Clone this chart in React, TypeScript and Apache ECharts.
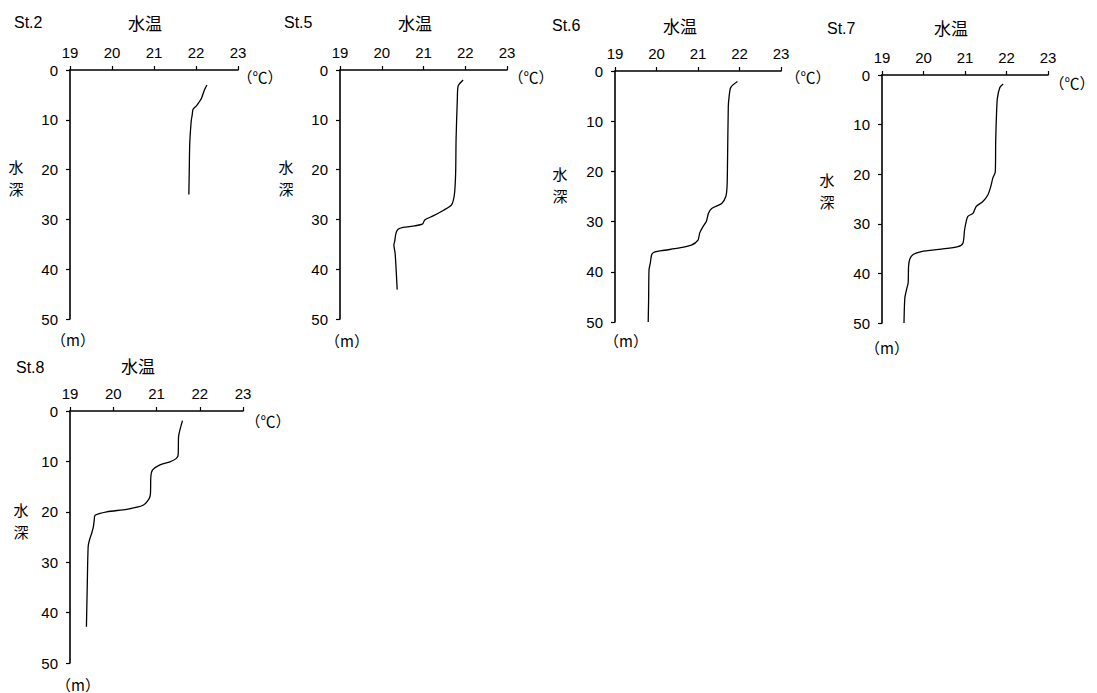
import React, { useEffect, useRef } from "react";
import * as echarts from "echarts";

const stations = ["St.2", "St.5", "St.6", "St.7", "St.8"];
const xTicks = [19, 20, 21, 22, 23];
const yTicks = [0, 10, 20, 30, 40, 50];

// [temperature °C, depth m]
const st2Temp = [22.26, 22.2, 22.13, 22.07, 22.01, 21.93, 21.91, 21.89, 21.87, 21.85, 21.84, 21.83];
const st2Depth = [3, 4, 5.7, 6.5, 7.2, 7.9, 9, 10, 12, 15, 20, 25];

const st5Temp = [21.95, 21.83, 21.81, 21.78, 21.77, 21.74, 21.67, 21.47, 21.23, 21.03, 20.98, 20.79, 20.51, 20.39, 20.34, 20.31, 20.29, 20.32, 20.34, 20.37];
const st5Depth = [2.0, 3.2, 6, 14, 20.7, 25, 27.1, 28.2, 29.3, 30.1, 30.9, 31.3, 31.6, 32, 32.8, 34.4, 35.1, 36.8, 39.4, 44.1];

const st6Temp = [21.95, 21.79, 21.75, 21.73, 21.71, 21.7, 21.67, 21.57, 21.33, 21.25, 21.2, 21.12, 21.04, 21.0, 20.84, 20.52, 20.12, 19.92, 19.88, 19.85, 19.82, 19.81, 19.8];
const st6Depth = [2.1, 3.25, 5.1, 7.1, 19.1, 23, 25, 26.4, 27.4, 28.4, 30, 31, 32.3, 33.7, 34.7, 35.3, 35.8, 36.2, 36.7, 38.3, 39.6, 45.6, 50];

const st7Temp = [21.92, 21.84, 21.78, 21.76, 21.74, 21.73, 21.67, 21.62, 21.55, 21.43, 21.27, 21.23, 21.19, 21.07, 21.03, 20.99, 20.95, 20.83, 20.43, 19.95, 19.75, 19.67, 19.64, 19.63, 19.59, 19.55, 19.53];
const st7Depth = [1.8, 2.5, 4.7, 7.7, 13.1, 19.5, 20.8, 22.5, 24.2, 25.5, 26.5, 27.2, 27.9, 28.5, 29.5, 31.2, 33.9, 34.6, 35.1, 35.6, 36.2, 37.1, 38.6, 41.9, 43.3, 45, 50];

const st8Temp = [21.6, 21.54, 21.51, 21.5, 21.46, 21.31, 21.08, 20.91, 20.87, 20.86, 20.83, 20.69, 20.31, 19.85, 19.58, 19.56, 19.54, 19.5, 19.45, 19.42, 19.4, 19.38];
const st8Depth = [1.9, 3.8, 5.1, 8.7, 9.4, 10.1, 10.7, 11.7, 13, 16.4, 17.4, 18.7, 19.5, 20, 20.7, 21.7, 23, 24.3, 25.6, 26.9, 34.2, 42.8];

const temps = [st2Temp, st5Temp, st6Temp, st7Temp, st8Temp];
const depths = [st2Depth, st5Depth, st6Depth, st7Depth, st8Depth];

// grid geometry (pixels)
const grids = [
  { left: 70, top: 70, width: 168, height: 249 },
  { left: 340, top: 70, width: 167, height: 249 },
  { left: 615, top: 71, width: 166, height: 251 },
  { left: 882, top: 75, width: 166, height: 248 },
  { left: 70, top: 411, width: 173, height: 252 },
];

// label positions
const titlePos = [
  { st: [14, 22], wt: [145, 22], wd: [16, 176], c: [260, 76], m: [73, 339] },
  { st: [284, 22], wt: [415, 22], wd: [286, 176], c: [531, 76], m: [347, 340] },
  { st: [552, 25], wt: [680, 25], wd: [560, 183], c: [808, 76], m: [626, 340] },
  { st: [827, 28], wt: [951, 27], wd: [827, 189], c: [1072, 82], m: [887, 347] },
  { st: [16, 367], wt: [138, 365], wd: [21, 519], c: [268, 420], m: [78, 684] },
];

const FONT = "Liberation Sans, Noto Sans CJK JP, sans-serif";
const CJK = "Noto Sans CJK JP, sans-serif";

export default function App() {
  const ref = useRef<HTMLDivElement>(null);
  useEffect(() => {
    if (!ref.current) return;
    const chart = echarts.init(ref.current, undefined, { renderer: "svg" });
    const axisLine = { show: true, lineStyle: { color: "#000", width: 1.6 } };
    const option: any = {
      animation: false,
      backgroundColor: "#fff",
      grid: grids.map((g) => ({ ...g, containLabel: false })),
      xAxis: grids.map((_, i) => ({
        type: "value",
        gridIndex: i,
        position: "top",
        min: xTicks[0],
        max: xTicks[xTicks.length - 1],
        interval: 1,
        axisLine,
        axisTick: { show: true, inside: false, length: 4, lineStyle: { color: "#000", width: 1.2 } },
        axisLabel: { color: "#000", fontSize: 15, fontFamily: FONT, margin: 10 },
        splitLine: { show: false },
      })),
      yAxis: grids.map((_, i) => ({
        type: "value",
        gridIndex: i,
        inverse: true,
        min: yTicks[0],
        max: yTicks[yTicks.length - 1],
        interval: 10,
        axisLine,
        axisTick: { show: true, inside: false, length: 4, lineStyle: { color: "#000", width: 1.2 } },
        axisLabel: { color: "#000", fontSize: 15, fontFamily: FONT, margin: 12 },
        splitLine: { show: false },
      })),
      series: stations.map((name, i) => ({
        name,
        type: "line",
        xAxisIndex: i,
        yAxisIndex: i,
        data: temps[i].map((t, k) => [t, depths[i][k]]),
        showSymbol: false,
        symbol: "none",
        smooth: 0.25,
        lineStyle: { color: "#000", width: 1.3 },
      })),
      graphic: titlePos.flatMap((p, i) => [
        { type: "text", x: p.st[0], y: p.st[1], style: { text: stations[i], fill: "#000", fontSize: 16, fontFamily: FONT, textVerticalAlign: "middle" } },
        { type: "text", x: p.wt[0], y: p.wt[1], style: { text: "水温", fill: "#000", fontSize: 17, fontFamily: CJK, textAlign: "center", textVerticalAlign: "middle" } },
        { type: "text", x: p.wd[0], y: p.wd[1] - 10, style: { text: "水", fill: "#000", fontSize: 15, fontFamily: CJK, textAlign: "center", textVerticalAlign: "middle" } },
        { type: "text", x: p.wd[0], y: p.wd[1] + 12, style: { text: "深", fill: "#000", fontSize: 15, fontFamily: CJK, textAlign: "center", textVerticalAlign: "middle" } },
        { type: "text", x: p.c[0], y: p.c[1], style: { text: "（℃）", fill: "#000", fontSize: 15, fontFamily: CJK, textAlign: "center", textVerticalAlign: "middle" } },
        { type: "text", x: p.m[0], y: p.m[1], style: { text: "（m）", fill: "#000", fontSize: 15, fontFamily: CJK, textAlign: "center", textVerticalAlign: "middle" } },
      ]),
    };
    chart.setOption(option);
    return () => chart.dispose();
  }, []);
  return (
    <div
      ref={ref}
      style={{ position: "fixed", left: 0, top: 0, width: 1097, height: 693, background: "#fff" }}
    />
  );
}
